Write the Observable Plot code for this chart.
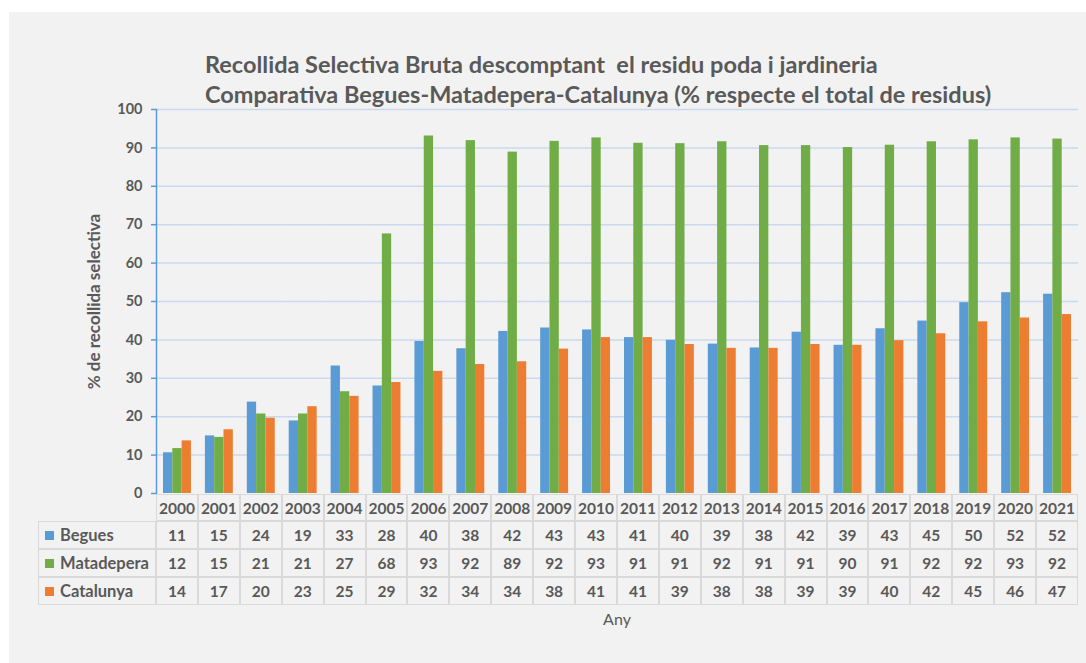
<!DOCTYPE html>
<html>
<head>
<meta charset="utf-8">
<script src="https://cdn.jsdelivr.net/npm/d3@7"></script>
<script src="https://cdn.jsdelivr.net/npm/@observablehq/plot@0.6"></script>
<style>
  body { margin: 0; background: #ffffff; font-family: Lato, "Open Sans", sans-serif; }
  #bg { position: absolute; left: 9px; top: 12px; width: 1077px; height: 651px; background: #f2f2f2; }
  #title { position: absolute; left: 205px; top: 49px; font-weight: bold; font-size: 23.5px; color: #595959; line-height: 30px; white-space: pre; }
  #chart { position: absolute; left: 0; top: 0; }
  #chart svg g[aria-label="y-axis label"] text { font-size: 17px; }
  .cell { position: absolute; box-sizing: border-box; border: 1px solid #d9d9d9; color: #595959; font-weight: bold; font-size: 15.5px; display: flex; align-items: center; justify-content: center; }
  .lab { justify-content: flex-start; padding-left: 6px; font-size: 16.5px; }
  .sw { width: 9px; height: 9px; margin-right: 6px; }
  #xlab { position: absolute; font-size: 16px; color: #595959; transform: translateX(-50%); }
</style>
</head>
<body>
<div id="bg"></div>
<div id="chart"></div>
<div id="title"></div>
<div id="table"></div>
<script>
const years = ["2000","2001","2002","2003","2004","2005","2006","2007","2008","2009","2010","2011","2012","2013","2014","2015","2016","2017","2018","2019","2020","2021"];
const series = ["Begues", "Matadepera", "Catalunya"];
const colors = ["#5b9bd5", "#70ad47", "#ed7d31"];
const begues = [10.6, 15.0, 23.8, 18.9, 33.2, 28.0, 39.6, 37.7, 42.2, 43.1, 42.6, 40.6, 39.9, 38.9, 37.9, 42.0, 38.6, 42.9, 44.9, 49.7, 52.3, 51.9];
const matadepera = [11.7, 14.6, 20.7, 20.7, 26.5, 67.6, 93.1, 91.9, 88.9, 91.7, 92.6, 91.2, 91.1, 91.6, 90.6, 90.6, 90.1, 90.7, 91.6, 92.1, 92.6, 92.3];
const catalunya = [13.7, 16.6, 19.6, 22.6, 25.3, 28.9, 31.8, 33.6, 34.3, 37.6, 40.6, 40.6, 38.8, 37.8, 37.8, 38.8, 38.6, 39.8, 41.6, 44.7, 45.7, 46.6];
const yTicks = [0, 10, 20, 30, 40, 50, 60, 70, 80, 90, 100];
const titleLines = ["Recollida Selectiva Bruta descomptant  el residu poda i jardineria", "Comparativa Begues-Matadepera-Catalunya (% respecte el total de residus)"];
const yLabel = "% de recollida selectiva";
const xLabel = "Any";

const values = [begues, matadepera, catalunya];
const data = years.flatMap((yr, i) => series.map((s, j) => ({year: yr, series: s, value: values[j][i]})));

document.getElementById("title").textContent = titleLines.join("\n");

const W = 1086, H = 506;
const plot = Plot.plot({
  width: W, height: H,
  marginLeft: 156, marginRight: 8, marginTop: 109, marginBottom: 13,
  style: {background: "transparent", color: "#595959", fontFamily: "Lato, 'Open Sans', sans-serif", fontSize: "14.5px", fontWeight: "bold"},
  fx: {domain: years, padding: 0, round: false, axis: null},
  x: {domain: series, paddingInner: 0, paddingOuter: 0.75, round: false, axis: null},
  y: {domain: [0, 100], axis: null},
  color: {domain: series, range: colors},
  marks: [
    Plot.gridY(yTicks.filter(d => d > 0), {stroke: "#c9daef", strokeOpacity: 1, strokeWidth: 1.5}),
    Plot.barY(data, {fx: "year", x: "series", y: "value", fill: "series"}),
    Plot.axisY({ticks: yTicks, tickSize: 5, tickPadding: 9, stroke: "#5b9bd5", strokeWidth: 1.5, fill: "#595959",
      label: yLabel, labelAnchor: "center", labelOffset: 69, labelArrow: "none"}),
    Plot.frame({anchor: "left", facetAnchor: "left", stroke: "#5b9bd5", strokeWidth: 1.5})
  ]
});
document.getElementById("chart").appendChild(plot);

// data table below the chart, aligned with the fx band scale
const fx = plot.scale("fx");
const bw = fx.bandwidth;
const tbl = document.getElementById("table");
const rowTop = [494, 521, 549, 577];
const rowH = [27, 28, 28, 28];
function cell(left, top, width, height, cls) {
  const d = document.createElement("div");
  d.className = "cell" + (cls ? " " + cls : "");
  d.style.left = left + "px"; d.style.top = top + "px";
  d.style.width = width + "px"; d.style.height = height + "px";
  tbl.appendChild(d);
  return d;
}
const x0 = fx.apply(years[0]);
years.forEach((yr, i) => {
  const l = fx.apply(yr);
  cell(l, rowTop[0], bw, rowH[0]).textContent = yr;
  series.forEach((s, j) => {
    cell(l, rowTop[j + 1], bw, rowH[j + 1]).textContent = Math.round(values[j][i]);
  });
});
series.forEach((s, j) => {
  const d = cell(38, rowTop[j + 1], x0 - 38, rowH[j + 1], "lab");
  const sw = document.createElement("span");
  sw.className = "sw"; sw.style.background = colors[j];
  d.appendChild(sw);
  d.appendChild(document.createTextNode(s));
});
const xl = document.createElement("div");
xl.id = "xlab"; xl.textContent = xLabel;
xl.style.left = (fx.range[0] + fx.range[1]) / 2 + "px";
xl.style.top = "609px";
document.body.appendChild(xl);
</script>
</body>
</html>
